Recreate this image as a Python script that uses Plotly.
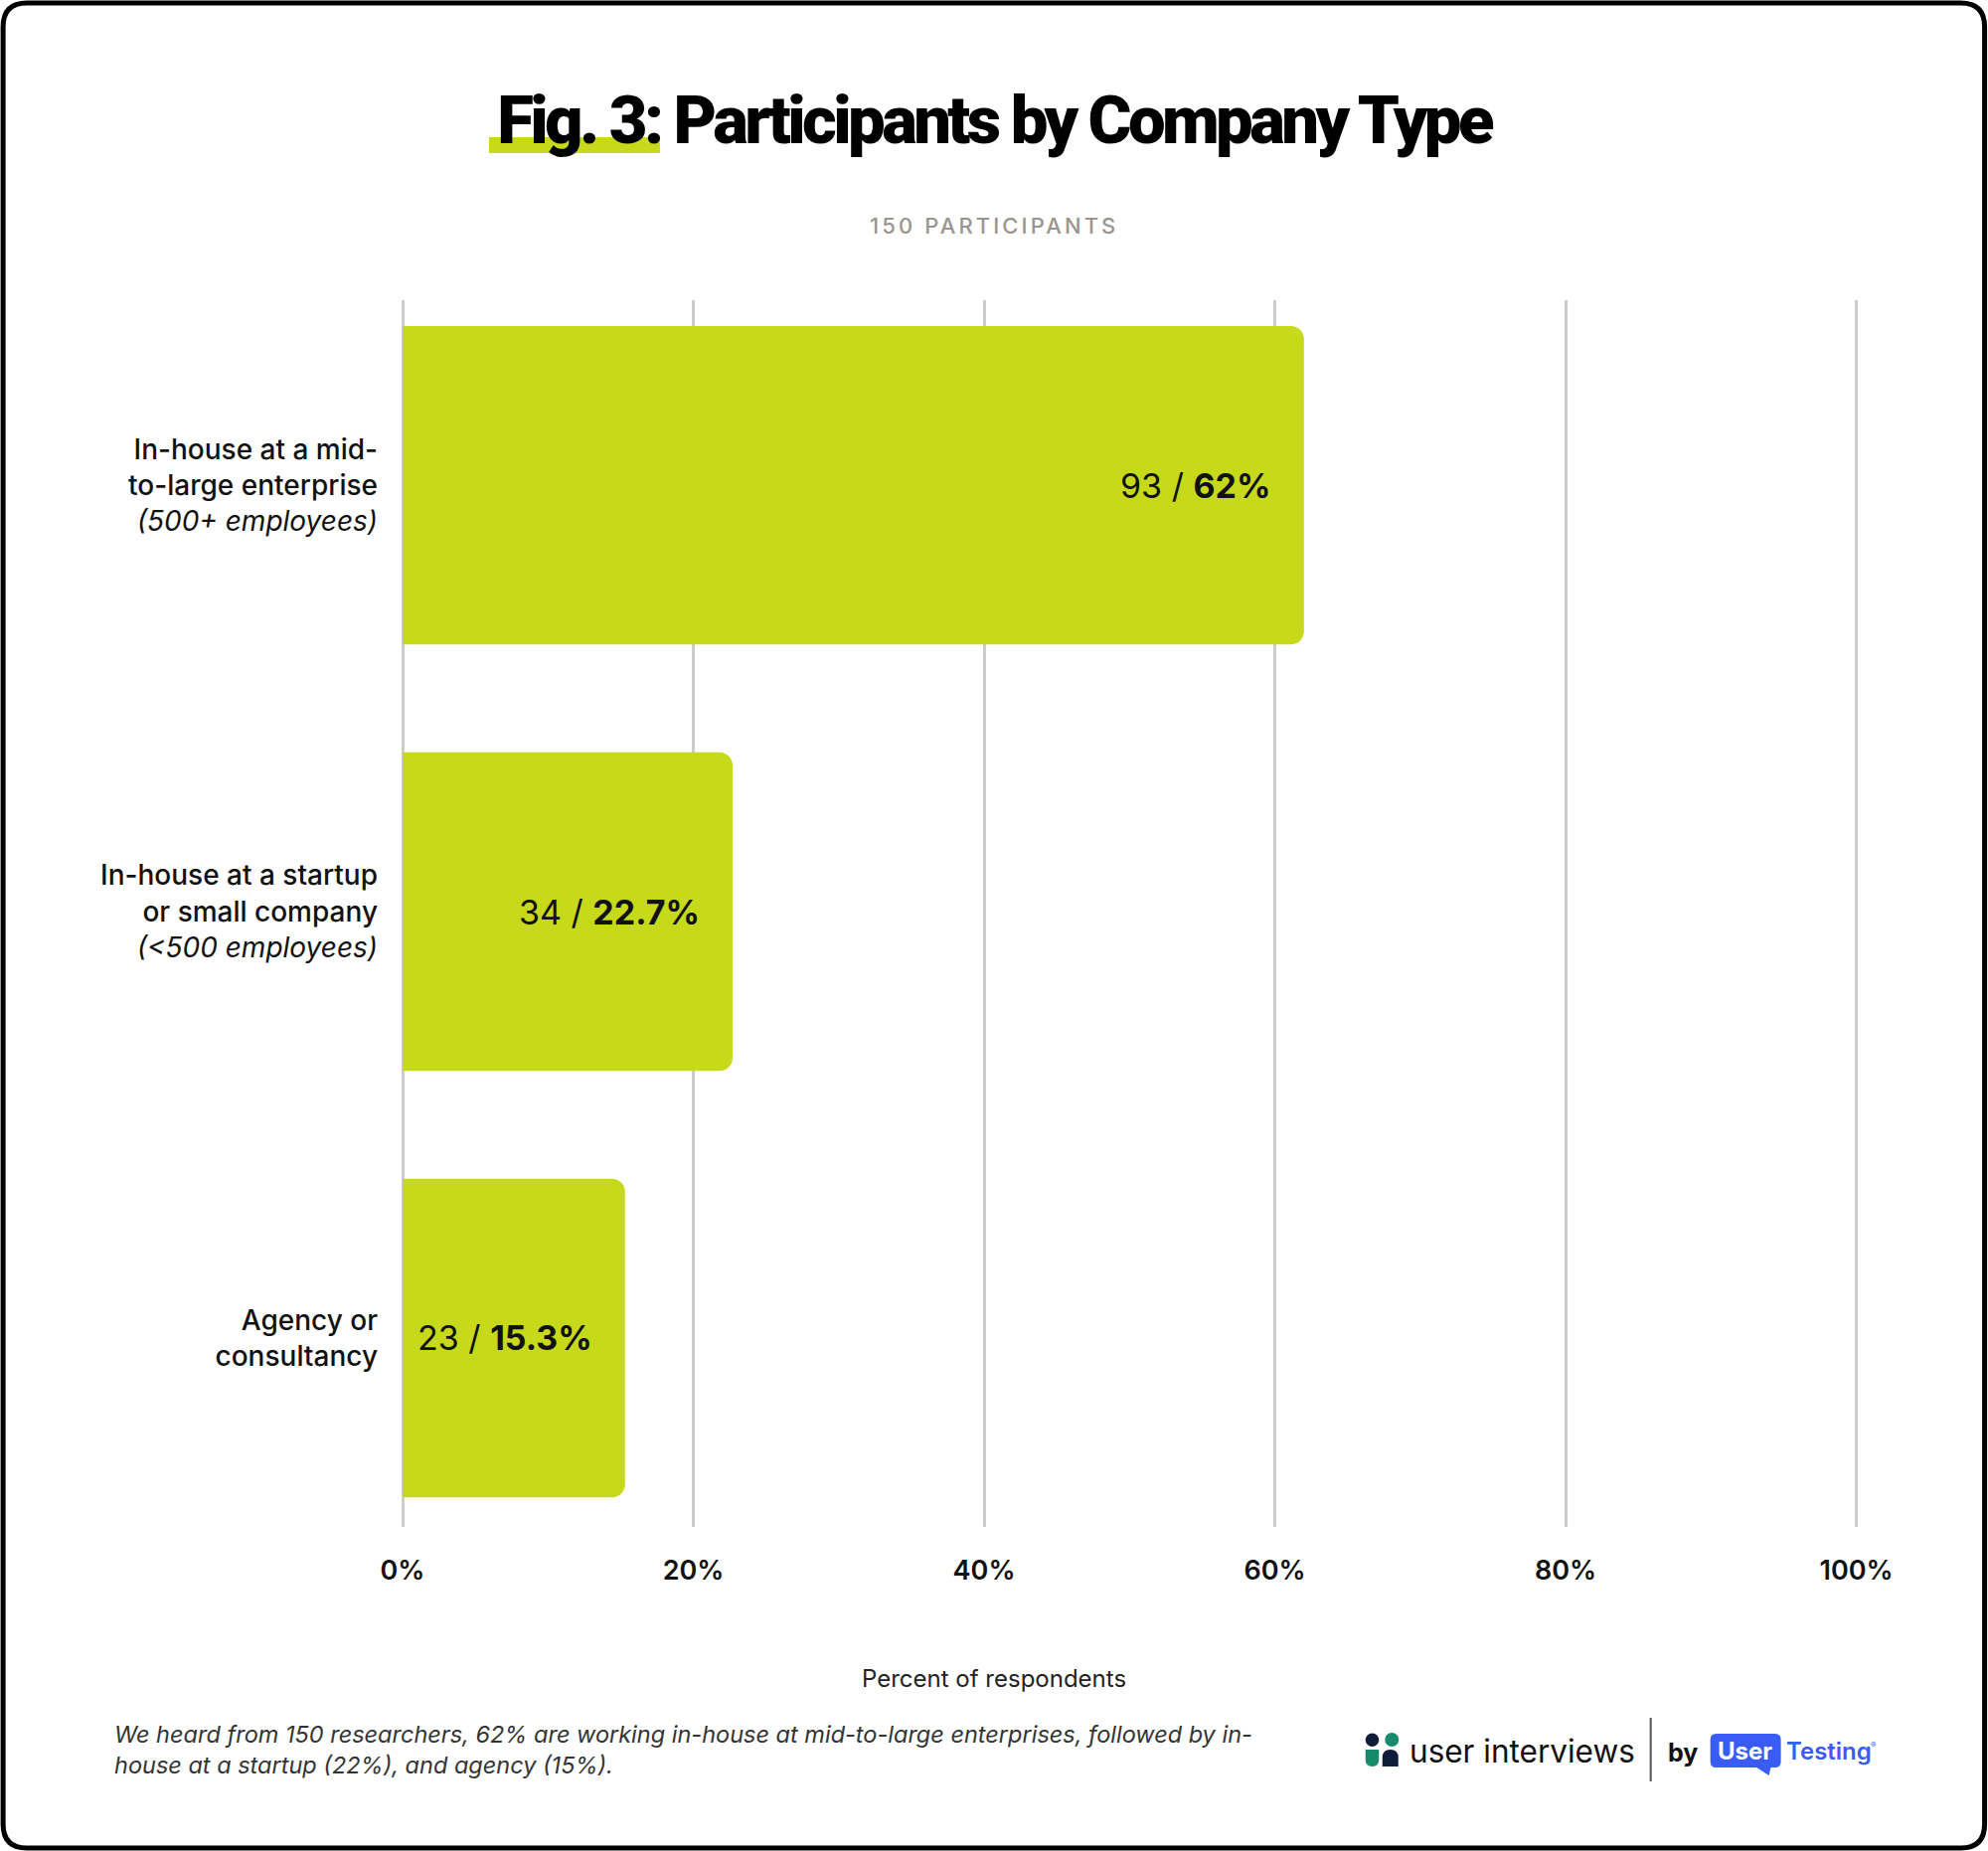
import plotly.graph_objects as go

# ---------------- data ----------------
categories = [
    "In-house at a mid-<br>to-large enterprise<br><span style='font-weight:400'><i>(500+ employees)</i></span>",
    "In-house at a startup<br>or small company<br><span style='font-weight:400'><i>(<500 employees)</i></span>",
    "Agency or<br>consultancy",
]
counts = [93, 34, 23]
percents = [62, 22.7, 15.3]
x_tickvals = [0, 20, 40, 60, 80, 100]
x_ticktext = ["0%", "20%", "40%", "60%", "80%", "100%"]

title_text = "Fig. 3: Participants by Company Type"
subtitle_text = "150 PARTICIPANTS"
axis_title = "Percent of respondents"
footnote = ("We heard from 150 researchers, 62% are working in-house at mid-to-large enterprises, followed by in-<br>"
            "house at a startup (22%), and agency (15%).")

# ---------------- layout geometry ----------------
W, H = 2000, 1862
X_MAX = 100.3
ML, MT, MB = 405, 302, 326
PW = (1868 - ML) * X_MAX / 100
MR = W - ML - PW
PH = H - MT - MB


def px(X):
    return (X - ML) / PW


def py(Y):
    return (H - MB - Y) / PH


BAR = "#c6da1b"
INK = "#111111"
FONT = "Inter, 'DejaVu Sans', sans-serif"

ylabels = list(range(len(categories)))

fig = go.Figure()
fig.add_trace(go.Bar(
    x=percents, y=ylabels, orientation="h",
    marker=dict(color=BAR, line=dict(width=0)),
    width=0.747, hoverinfo="skip", showlegend=False,
))

annotations = []
for i, (c, p) in enumerate(zip(counts, percents)):
    annotations.append(dict(
        x=p, y=i, xref="x", yref="y", text=f"{c} / <b>{p:g}%</b>",
        showarrow=False, xanchor="right", yanchor="middle", xshift=-31,
        font=dict(family=FONT, size=34, color=INK),
    ))

# subtitle
annotations.append(dict(
    x=px(1000), y=py(227), xref="paper", yref="paper",
    text=f"<span style='letter-spacing:3.1px'>{subtitle_text}</span>",
    showarrow=False, xanchor="center", yanchor="middle",
    font=dict(family=FONT, size=22, color="#9b958f", weight=500),
))
# axis title centered on page
annotations.append(dict(
    x=px(1000), y=py(1688), xref="paper", yref="paper", text=axis_title,
    showarrow=False, xanchor="center", yanchor="middle",
    font=dict(family=FONT, size=24, color="#222222"),
))
# footnote
annotations.append(dict(
    x=px(113), y=py(1760), xref="paper", yref="paper", text=footnote,
    showarrow=False, xanchor="left", yanchor="middle", align="left",
    font=dict(family=FONT, size=23.5, color="#333333", style="italic"),
))
# logo texts
annotations.append(dict(
    x=px(1416), y=py(1761), xref="paper", yref="paper", text="user interviews",
    showarrow=False, xanchor="left", yanchor="middle",
    font=dict(family=FONT, size=31.5, color=INK),
))
annotations.append(dict(
    x=px(1676), y=py(1763), xref="paper", yref="paper", text="<b>by</b>",
    showarrow=False, xanchor="left", yanchor="middle",
    font=dict(family=FONT, size=25, color=INK),
))
annotations.append(dict(
    x=px(1756), y=py(1761), xref="paper", yref="paper", text="<b>User</b>",
    showarrow=False, xanchor="center", yanchor="middle",
    font=dict(family=FONT, size=24, color="white"),
))
annotations.append(dict(
    x=px(1795), y=py(1761), xref="paper", yref="paper", text="Testing",
    showarrow=False, xanchor="left", yanchor="middle",
    font=dict(family=FONT, size=24, color="#3a5cf6", weight=600),
))
annotations.append(dict(
    x=px(1880), y=py(1755), xref="paper", yref="paper", text="®",
    showarrow=False, xanchor="left", yanchor="middle",
    font=dict(family=FONT, size=8, color="#3a5cf6"),
))


def rr_path(x0, y0, x1, y1, r):
    return (f"M {px(x0 + r)} {py(y0)} L {px(x1 - r)} {py(y0)} "
            f"Q {px(x1)} {py(y0)} {px(x1)} {py(y0 + r)} "
            f"L {px(x1)} {py(y1 - r)} Q {px(x1)} {py(y1)} {px(x1 - r)} {py(y1)} "
            f"L {px(x0 + r)} {py(y1)} Q {px(x0)} {py(y1)} {px(x0)} {py(y1 - r)} "
            f"L {px(x0)} {py(y0 + r)} Q {px(x0)} {py(y0)} {px(x0 + r)} {py(y0)} Z")


shapes = []
shapes.append(dict(type="path", xref="paper", yref="paper",
                   path=rr_path(3, 3, 1997, 1859, 24),
                   line=dict(color="black", width=5), fillcolor="rgba(0,0,0,0)", layer="above"))
shapes.append(dict(type="rect", xref="paper", yref="paper",
                   x0=px(492), x1=px(664), y0=py(138), y1=py(154),
                   fillcolor=BAR, line=dict(width=0), layer="below"))
NAVY, GREEN = "#0f1d3a", "#178a6c"
shapes.append(dict(type="circle", xref="paper", yref="paper",
                   x0=px(1374), x1=px(1387.5), y0=py(1743.5), y1=py(1757),
                   fillcolor=NAVY, line=dict(width=0)))
shapes.append(dict(type="circle", xref="paper", yref="paper",
                   x0=px(1393.5), x1=px(1407.5), y0=py(1743), y1=py(1757),
                   fillcolor=GREEN, line=dict(width=0)))
shapes.append(dict(type="path", xref="paper", yref="paper",
                   path=(f"M {px(1374)} {py(1760)} L {px(1387.5)} {py(1760)} L {px(1387.5)} {py(1770)} "
                         f"Q {px(1387.5)} {py(1777)} {px(1380.7)} {py(1777)} "
                         f"Q {px(1374)} {py(1777)} {px(1374)} {py(1770)} Z"),
                   fillcolor=GREEN, line=dict(width=0)))
shapes.append(dict(type="path", xref="paper", yref="paper",
                   path=(f"M {px(1391)} {py(1777)} L {px(1391)} {py(1768)} "
                         f"Q {px(1391)} {py(1760)} {px(1399)} {py(1760)} "
                         f"Q {px(1407)} {py(1760)} {px(1407)} {py(1768)} L {px(1407)} {py(1777)} Z"),
                   fillcolor=NAVY, line=dict(width=0)))
shapes.append(dict(type="line", xref="paper", yref="paper",
                   x0=px(1661), x1=px(1661), y0=py(1728), y1=py(1792),
                   line=dict(color="#555555", width=2)))
shapes.append(dict(type="path", xref="paper", yref="paper",
                   path=rr_path(1721, 1744, 1792, 1778, 6),
                   fillcolor="#3a5cf6", line=dict(width=0)))
shapes.append(dict(type="path", xref="paper", yref="paper",
                   path=(f"M {px(1766)} {py(1777)} L {px(1782)} {py(1777)} L {px(1780)} {py(1786)} Z"),
                   fillcolor="#3a5cf6", line=dict(width=0)))

fig.update_layout(
    width=W, height=H,
    margin=dict(l=ML, r=MR, t=MT, b=MB, pad=0),
    paper_bgcolor="white", plot_bgcolor="white",
    barcornerradius=13,
    title=dict(
        text=f"<span style='letter-spacing:-3.6px'>{title_text}</span>",
        x=0.5, xref="container", xanchor="center",
        y=1 - 121 / H, yanchor="middle",
        font=dict(family="Roboto, 'Open Sans Condensed', sans-serif",
                  size=67, color="black", weight=900),
    ),
    xaxis=dict(
        range=[0, X_MAX], tickvals=x_tickvals, ticktext=x_ticktext,
        showgrid=True, gridcolor="#cccccc", gridwidth=3,
        zeroline=True, zerolinecolor="#cccccc", zerolinewidth=3,
        showline=False, ticks="", ticklabelstandoff=25,
        tickfont=dict(family=FONT, size=27, color=INK, weight=600),
        fixedrange=True,
    ),
    yaxis=dict(
        range=[2.443, -0.434], tickvals=ylabels, ticktext=categories,
        showgrid=False, zeroline=False, showline=False, ticks="",
        ticklabelstandoff=24,
        tickfont=dict(family=FONT, size=28, color=INK, weight=500),
        fixedrange=True,
    ),
    annotations=annotations,
    shapes=shapes,
)

fig.write_html("out.html")
